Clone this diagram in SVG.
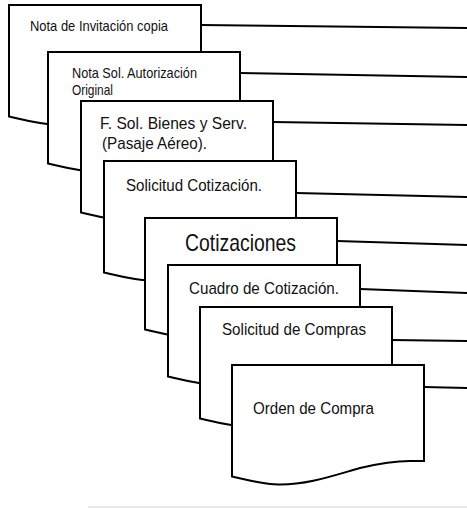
<svg xmlns="http://www.w3.org/2000/svg" xmlns:xlink="http://www.w3.org/1999/xlink" width="467" height="508" viewBox="0 0 467 508">
  <style>
    .doc { fill: #fff; stroke: #000; stroke-width: 2; stroke-linejoin: miter; }
    .link { fill: none; stroke: #000; stroke-width: 2; }
    .lbl { font-family: "Liberation Sans Narrow", "Liberation Sans", Arial, sans-serif; fill: #111; }
  </style>
  <defs>
    <!-- document sheet with wavy bottom edge, 192 wide -->
    <path id="sheet" d="M0,0 H192 V96 H178 C160,96 145,99 128,103 C100,111 75,120 46,119.5 C30,119 15,115 0,111.5 Z"/>
  </defs>

  <rect width="467" height="508" fill="#fff"/>

  <g id="connectors">
    <line class="link" x1="201" y1="25" x2="467" y2="28"/>
    <line class="link" x1="240" y1="73" x2="467" y2="77"/>
    <line class="link" x1="273" y1="122" x2="467" y2="125"/>
    <line class="link" x1="296" y1="193" x2="467" y2="197"/>
    <line class="link" x1="337" y1="241" x2="467" y2="245"/>
    <line class="link" x1="360" y1="289" x2="467" y2="293"/>
    <line class="link" x1="392" y1="340" x2="467" y2="341"/>
    <line class="link" x1="424" y1="387" x2="467" y2="388"/>
  </g>

  <g id="nota-invitacion">
    <use xlink:href="#sheet" class="doc" transform="translate(9,5)"/>
    <text class="lbl" x="30" y="31" font-size="14.5" textLength="138" lengthAdjust="spacingAndGlyphs">Nota de Invitación copia</text>
  </g>

  <g id="nota-autorizacion">
    <use xlink:href="#sheet" class="doc" transform="translate(48,52)"/>
    <text class="lbl" x="72" y="78" font-size="14.5" textLength="125" lengthAdjust="spacingAndGlyphs">Nota Sol. Autorización</text>
    <text class="lbl" x="72" y="95" font-size="14.5" textLength="41" lengthAdjust="spacingAndGlyphs">Original</text>
  </g>

  <g id="sol-bienes">
    <use xlink:href="#sheet" class="doc" transform="translate(81,101)"/>
    <text class="lbl" x="100" y="129" font-size="17" textLength="147" lengthAdjust="spacingAndGlyphs">F. Sol. Bienes y Serv.</text>
    <text class="lbl" x="102" y="149" font-size="17" textLength="105" lengthAdjust="spacingAndGlyphs">(Pasaje Aéreo).</text>
  </g>

  <g id="sol-cotizacion">
    <use xlink:href="#sheet" class="doc" transform="translate(104,161)"/>
    <text class="lbl" x="126" y="191" font-size="17" textLength="136" lengthAdjust="spacingAndGlyphs">Solicitud Cotización.</text>
  </g>

  <g id="cotizaciones">
    <use xlink:href="#sheet" class="doc" transform="translate(145,218)"/>
    <text class="lbl" x="185" y="251" font-size="24" textLength="111" lengthAdjust="spacingAndGlyphs">Cotizaciones</text>
  </g>

  <g id="cuadro-cotizacion">
    <use xlink:href="#sheet" class="doc" transform="translate(168,265)"/>
    <text class="lbl" x="189" y="294" font-size="17" textLength="150" lengthAdjust="spacingAndGlyphs">Cuadro de Cotización.</text>
  </g>

  <g id="sol-compras">
    <use xlink:href="#sheet" class="doc" transform="translate(200,307)"/>
    <text class="lbl" x="222" y="335" font-size="17" textLength="144" lengthAdjust="spacingAndGlyphs">Solicitud de Compras</text>
  </g>

  <g id="orden-compra">
    <use xlink:href="#sheet" class="doc" transform="translate(232,365)"/>
    <text class="lbl" x="253" y="414" font-size="17" textLength="121" lengthAdjust="spacingAndGlyphs">Orden de Compra</text>
  </g>

  <!-- faint rule along the bottom edge -->
  <line x1="88" y1="507" x2="467" y2="507" stroke="#e2e2e2" stroke-width="1.5"/>
</svg>
